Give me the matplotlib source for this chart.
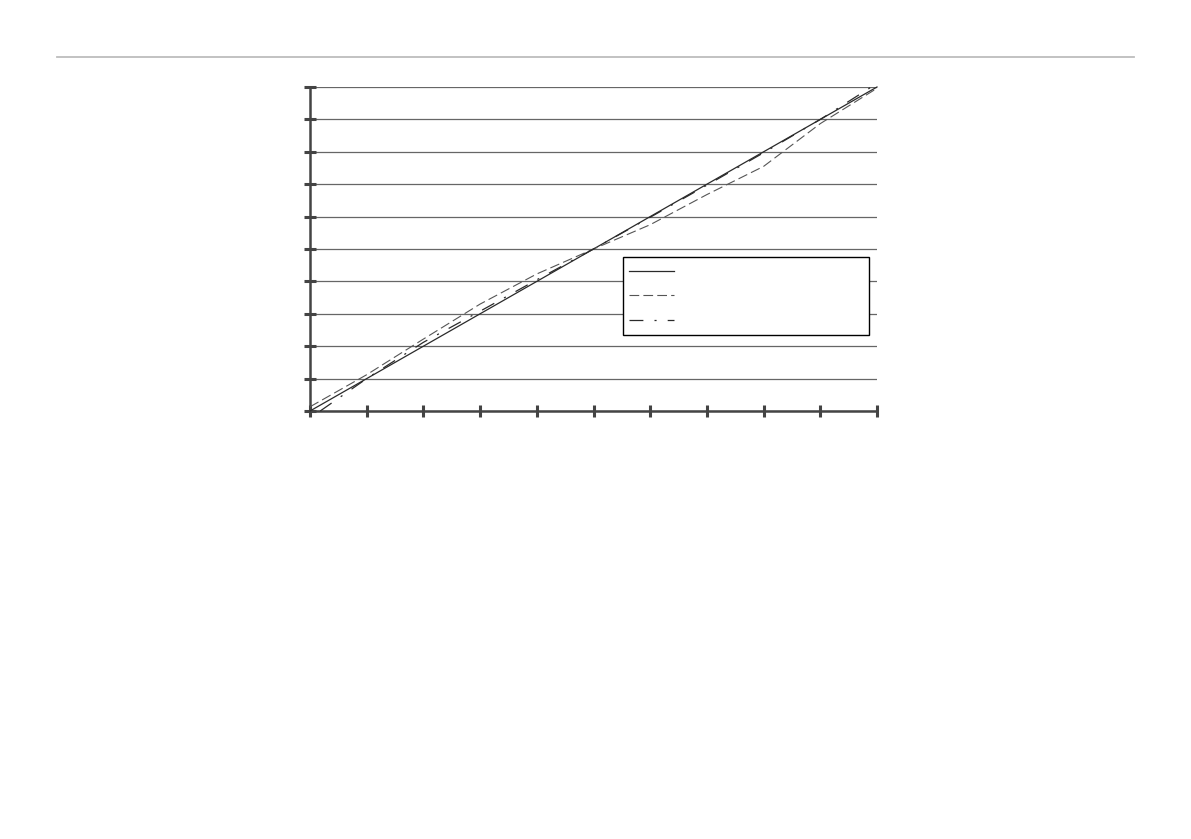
import numpy as np
import matplotlib
matplotlib.use("Agg")
import matplotlib.pyplot as plt
from matplotlib.lines import Line2D

plt.rcParams["lines.scale_dashes"] = False

# values
x = [0, 1, 2, 3, 4, 5, 6, 7, 8, 9, 10]
solid = [0, 1, 2, 3, 4, 5, 6, 7, 8, 9, 10]
dashed = [0.13, 1.12, 2.22, 3.3, 4.23, 5.0, 5.75, 6.68, 7.55, 8.87, 9.96]
x_dd = [0.18, 1, 2, 3, 4, 5, 6, 7, 8, 9, 9.9]
dashdot = [0, 1.0, 2.12, 3.08, 4.05, 5.0, 5.98, 6.97, 7.97, 9.0, 10.0]
labels = [" ", " ", " "]

W, H = 1191, 839
fig = plt.figure(figsize=(W / 100, H / 100), dpi=100)
ax = fig.add_axes([310 / W, 1 - 411 / H, 567 / W, 324 / H])

# thin rule across the top of the page
fig.add_artist(Line2D([57 / W, 1134 / W], [1 - 57 / H, 1 - 57 / H],
                      transform=fig.transFigure, color="#bdbdbd", lw=1.3))

l1, = ax.plot(x, solid, color="#2a2a2a", lw=0.9, clip_on=False, zorder=3)
l2, = ax.plot(x, dashed, color="#555555", lw=0.8, dashes=(7, 3), clip_on=False, zorder=3)
l3, = ax.plot(x_dd, dashdot, color="#2a2a2a", lw=0.9, dashes=(10, 8, 1.5, 8), clip_on=False, zorder=3)

ax.set_xlim(0, 10)
ax.set_ylim(0, 10)
ax.set_xticks(np.arange(0, 11, 1))
ax.set_yticks(np.arange(0, 11, 1))
ax.set_xticklabels([])
ax.set_yticklabels([])
ax.grid(axis="y", color="#666666", lw=0.9)
ax.set_axisbelow(True)

for s in ["top", "right"]:
    ax.spines[s].set_visible(False)
for s in ["left", "bottom"]:
    ax.spines[s].set_color("#444444")
    ax.spines[s].set_linewidth(1.8)
ax.tick_params(direction="inout", length=8.5, width=2.2, color="#444444")

leg = ax.legend([l1, l2, l3], labels, loc="upper left",
                bbox_to_anchor=(0.552, 0.238, 0.434, 0.237), mode="expand",
                borderaxespad=0, fontsize=12, labelspacing=0.38, borderpad=0.34,
                handlelength=2.75, handleheight=0.7, fancybox=False,
                framealpha=1, edgecolor="black")
leg.get_frame().set_linewidth(1.0)

fig.savefig("out.png", dpi=100, facecolor="white")
